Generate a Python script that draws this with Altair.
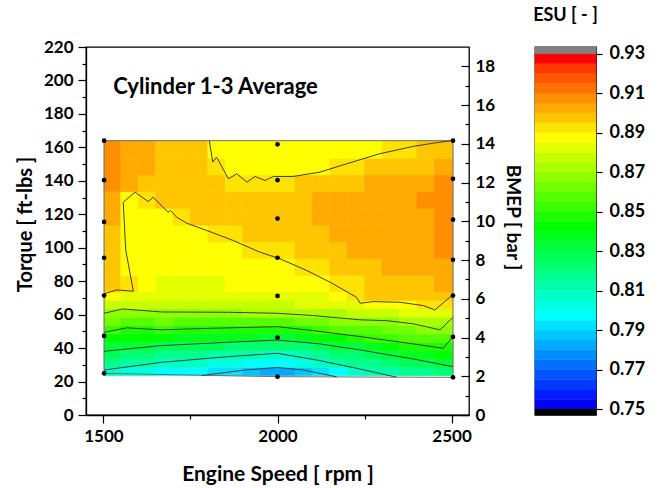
import altair as alt
import pandas as pd

# ---------------- data ----------------
SPEED_EDGES = [1502, 1550, 1600, 1650, 1700, 1750, 1800, 1850, 1900, 1950,
               2000, 2050, 2100, 2150, 2200, 2250, 2300, 2350, 2400, 2450, 2504]
TORQUE_EDGES = [23.5, 28.5, 33.5, 38.5, 43.5, 48.5, 53.5, 58.5, 63.5, 68.5,
                73.5, 83.5, 93.5, 103.5, 113.5, 123.5, 133.5, 143.5, 153.5, 164.0]

esu_t26 = [0.807, 0.804, 0.802, 0.799, 0.798, 0.795, 0.793, 0.790, 0.787, 0.783,
           0.783, 0.788, 0.792, 0.799, 0.806, 0.810, 0.814, 0.819, 0.819, 0.822]
esu_t31 = [0.816, 0.813, 0.812, 0.809, 0.807, 0.805, 0.803, 0.801, 0.799, 0.797,
           0.797, 0.800, 0.806, 0.812, 0.815, 0.819, 0.822, 0.826, 0.828, 0.831]
esu_t36 = [0.825, 0.823, 0.821, 0.819, 0.817, 0.816, 0.814, 0.812, 0.811, 0.809,
           0.808, 0.813, 0.817, 0.821, 0.824, 0.827, 0.831, 0.835, 0.838, 0.840]
esu_t41 = [0.834, 0.832, 0.831, 0.829, 0.828, 0.827, 0.825, 0.824, 0.823, 0.821,
           0.821, 0.824, 0.827, 0.830, 0.834, 0.838, 0.842, 0.846, 0.849, 0.849]
esu_t46 = [0.842, 0.840, 0.840, 0.840, 0.839, 0.838, 0.837, 0.836, 0.835, 0.834,
           0.834, 0.836, 0.840, 0.843, 0.847, 0.850, 0.853, 0.855, 0.857, 0.857]
esu_t51 = [0.851, 0.849, 0.849, 0.850, 0.849, 0.849, 0.848, 0.848, 0.847, 0.846,
           0.846, 0.849, 0.852, 0.855, 0.857, 0.859, 0.861, 0.864, 0.866, 0.866]
esu_t56 = [0.860, 0.857, 0.858, 0.860, 0.859, 0.859, 0.859, 0.859, 0.858, 0.858,
           0.859, 0.861, 0.863, 0.865, 0.867, 0.869, 0.869, 0.872, 0.874, 0.874]
esu_t61 = [0.869, 0.866, 0.867, 0.869, 0.869, 0.869, 0.869, 0.869, 0.870, 0.870,
           0.870, 0.871, 0.872, 0.873, 0.876, 0.878, 0.878, 0.880, 0.883, 0.882]
esu_t66 = [0.877, 0.875, 0.877, 0.877, 0.877, 0.877, 0.878, 0.878, 0.878, 0.879,
           0.879, 0.880, 0.880, 0.880, 0.883, 0.887, 0.887, 0.889, 0.890, 0.890]
esu_t71 = [0.886, 0.884, 0.882, 0.881, 0.881, 0.881, 0.882, 0.882, 0.882, 0.883,
           0.883, 0.884, 0.884, 0.885, 0.890, 0.895, 0.896, 0.897, 0.897, 0.895]
esu_t78 = [0.899, 0.893, 0.885, 0.883, 0.883, 0.884, 0.884, 0.885, 0.886, 0.886,
           0.887, 0.887, 0.888, 0.891, 0.894, 0.896, 0.898, 0.899, 0.899, 0.900]
esu_t88 = [0.898, 0.889, 0.886, 0.886, 0.887, 0.887, 0.888, 0.888, 0.889, 0.889,
           0.889, 0.891, 0.894, 0.896, 0.897, 0.899, 0.900, 0.901, 0.902, 0.903]
esu_t98 = [0.898, 0.887, 0.886, 0.887, 0.887, 0.888, 0.888, 0.889, 0.890, 0.892,
           0.894, 0.896, 0.897, 0.898, 0.900, 0.901, 0.902, 0.903, 0.903, 0.905]
esu_t108 = [0.899, 0.887, 0.887, 0.888, 0.888, 0.889, 0.890, 0.893, 0.895, 0.896,
            0.897, 0.898, 0.899, 0.900, 0.902, 0.903, 0.903, 0.904, 0.904, 0.906]
esu_t118 = [0.901, 0.887, 0.888, 0.889, 0.893, 0.896, 0.897, 0.897, 0.898, 0.899,
            0.899, 0.899, 0.900, 0.902, 0.903, 0.903, 0.904, 0.904, 0.904, 0.907]
esu_t128 = [0.904, 0.889, 0.891, 0.895, 0.897, 0.897, 0.897, 0.898, 0.898, 0.899,
            0.899, 0.899, 0.900, 0.901, 0.902, 0.902, 0.903, 0.904, 0.905, 0.907]
esu_t138 = [0.906, 0.902, 0.899, 0.898, 0.897, 0.897, 0.896, 0.894, 0.893, 0.893,
            0.894, 0.896, 0.897, 0.898, 0.899, 0.900, 0.901, 0.902, 0.903, 0.905]
esu_t148 = [0.907, 0.903, 0.900, 0.898, 0.897, 0.897, 0.891, 0.889, 0.888, 0.888,
            0.888, 0.888, 0.889, 0.890, 0.894, 0.896, 0.897, 0.898, 0.899, 0.901]
esu_t158 = [0.908, 0.903, 0.900, 0.898, 0.897, 0.896, 0.889, 0.888, 0.887, 0.886,
            0.886, 0.886, 0.887, 0.887, 0.888, 0.889, 0.891, 0.894, 0.896, 0.897]

ROWS = [esu_t26, esu_t31, esu_t36, esu_t41, esu_t46, esu_t51, esu_t56, esu_t61,
        esu_t66, esu_t71, esu_t78, esu_t88, esu_t98, esu_t108, esu_t118,
        esu_t128, esu_t138, esu_t148, esu_t158]

C89_TOP_RPM = [1804, 1814, 1825, 1859, 1883, 1912, 1935, 1964, 1988, 2045, 2122,
               2199, 2294, 2390, 2447, 2503]
C89_TOP_TQ = [164.1, 151.2, 154.2, 141.2, 144.2, 139.2, 142.6, 140.2, 142.6, 142.6,
              145.2, 150.2, 156.2, 160.6, 162.5, 164.1]
C89_LOW_RPM = [1502, 1538, 1586, 1564, 1557, 1591, 1629, 1643, 1686, 1693, 1710,
               1739, 1797, 1873, 1950, 2007, 2084, 2151, 2227, 2237, 2275, 2352,
               2419, 2452, 2504]
C89_LOW_TQ = [72.4, 74.8, 74.0, 98.8, 127.2, 133.2, 127.6, 130.2, 121.2, 122.3, 118.3,
              114.7, 110.3, 104.3, 97.3, 93.4, 86.4, 79.4, 70.4, 66.8, 67.8, 67.4,
              65.4, 62.8, 72.0]
C87_RPM = [1502, 1555, 1667, 1859, 2000, 2100, 2237, 2314, 2390, 2467, 2504]
C87_TQ = [60.8, 63.4, 61.6, 61.4, 60.8, 59.5, 56.9, 56.4, 54.5, 50.9, 58.4]
C85_RPM = [1502, 1567, 1667, 1800, 1900, 2000, 2100, 2237, 2390, 2476, 2504]
C85_TQ = [49.4, 52.1, 50.9, 51.8, 52.3, 52.8, 50.5, 46.9, 42.5, 39.9, 46.9]
C83_RPM = [1502, 1667, 1859, 2000, 2122, 2237, 2390, 2504]
C83_TQ = [38.1, 41.5, 43.5, 44.8, 42.5, 38.9, 33.5, 28.9]
C81_RPM = [1502, 1667, 1859, 2000, 2122, 2237, 2342]
C81_TQ = [26.9, 31.5, 34.9, 36.9, 32.5, 27.5, 22.6]
C79_RPM = [1782, 1907, 2000, 2074, 2170]
C79_TQ = [23.6, 26.9, 28.4, 26.9, 22.8]

EDGE_RPM = [1502, 2504, 2504, 2000, 1502, 1502]
EDGE_TQ = [164.0, 164.0, 22.5, 22.9, 24.9, 164.0]

DOT_RPM = [1502, 1502, 1502, 1502, 1502, 1502, 1502,
           2000, 2000, 2000, 2000, 2000, 2000, 2000,
           2504, 2504, 2504, 2504, 2504, 2504, 2504]
DOT_TQ = [164.0, 140.4, 115.4, 94.0, 71.4, 47.3, 24.9,
          161.8, 140.4, 117.4, 94.0, 71.2, 46.3, 22.9,
          164.0, 141.2, 116.8, 92.8, 71.4, 46.7, 22.5]

X_TICKS = [1500, 1750, 2000, 2250, 2500]
Y_TICKS = [0, 10, 20, 30, 40, 50, 60, 70, 80, 90, 100, 110, 120, 130, 140, 150,
           160, 170, 180, 190, 200, 210, 220]
BMEP_MAJOR = [0, 2, 4, 6, 8, 10, 12, 14, 16, 18]
BMEP_MINOR = [1, 3, 5, 7, 9, 11, 13, 15, 17]
CB_TICKS = [0.75, 0.77, 0.79, 0.81, 0.83, 0.85, 0.87, 0.89, 0.91, 0.93]

STOPS = [(0.75, (0, 0, 255)), (0.795, (0, 255, 255)), (0.84, (0, 255, 0)),
         (0.885, (255, 255, 0)), (0.93, (255, 0, 0))]


def rainbow(v):
    for (a, ca), (b, cb) in zip(STOPS, STOPS[1:]):
        if v <= b:
            f = (v - a) / (b - a)
            return "#%02x%02x%02x" % tuple(int(round(ca[i] + (cb[i] - ca[i]) * f)) for i in range(3))
    return "#ff0000"


THRESH = [round(0.75 + 0.005 * k, 3) for k in range(37)]
BAND_COLORS = [rainbow(THRESH[k]) for k in range(35)] + ["#ff0000"]
RANGE = ["#000000"] + BAND_COLORS + ["#808080"]
color_scale = alt.Scale(type="threshold", domain=THRESH, range=RANGE)

cells = []
for r, row in enumerate(ROWS):
    for c, v in enumerate(row):
        cells.append({"x0": SPEED_EDGES[c], "x1": SPEED_EDGES[c + 1],
                      "y0": TORQUE_EDGES[r], "y1": TORQUE_EDGES[r + 1], "esu": v})
cells = pd.DataFrame(cells)

line_rows = []
for name, xs, ys in [("89a", C89_TOP_RPM, C89_TOP_TQ), ("89b", C89_LOW_RPM, C89_LOW_TQ),
                     ("87", C87_RPM, C87_TQ), ("85", C85_RPM, C85_TQ),
                     ("83", C83_RPM, C83_TQ), ("81", C81_RPM, C81_TQ),
                     ("79", C79_RPM, C79_TQ)]:
    for i, (x, y) in enumerate(zip(xs, ys)):
        line_rows.append({"line": name, "idx": i, "rpm": x, "tq": y})
lines_df = pd.DataFrame(line_rows)
edge_df = pd.DataFrame({"rpm": EDGE_RPM, "tq": EDGE_TQ, "idx": list(range(len(EDGE_RPM)))})
dots_df = pd.DataFrame({"rpm": DOT_RPM, "tq": DOT_TQ})
label_df = pd.DataFrame({"rpm": [1528], "tq": [196], "text": ["Cylinder 1-3 Average"]})

cb_rows = [{"lo": THRESH[k], "hi": THRESH[k + 1], "mid": (THRESH[k] + THRESH[k + 1]) / 2,
            "c0": 0, "c1": 1} for k in range(36)]
cb_rows.append({"lo": 0.747, "hi": 0.75, "mid": 0.7485, "c0": 0, "c1": 1})
cb_rows.append({"lo": 0.93, "hi": 0.9333, "mid": 0.9315, "c0": 0, "c1": 1})
cb_df = pd.DataFrame(cb_rows)

bm_df = pd.DataFrame({"b": [0], "rpm": [2000]})

FONT = "Lato"
x_scale = alt.Scale(domain=[1450, 2550], nice=False, zero=False)
y_scale = alt.Scale(domain=[0, 220], nice=False)

x_axis = alt.Axis(values=X_TICKS, format="d", title="Engine Speed [ rpm ]",
                  labelExpr="datum.value % 500 === 0 ? datum.label : ''",
                  tickSize={"condition": {"test": "datum.value % 500 === 0", "value": 8}, "value": 4},
                  labelPadding=5, titlePadding=19, titleFontSize=21, labelFlush=False)
y_axis = alt.Axis(values=Y_TICKS, format="d", title="Torque [ ft-lbs ]",
                  labelExpr="datum.value % 20 === 0 ? datum.label : ''",
                  tickSize={"condition": {"test": "datum.value % 20 === 0", "value": 8}, "value": 4},
                  labelPadding=5, titlePadding=8, titleY=177, titleFontSize=20,
                  labelFlush=False)

X = alt.X("rpm:Q", scale=x_scale, axis=x_axis)
Y = alt.Y("tq:Q", scale=y_scale, axis=y_axis)

heat = alt.Chart(cells).mark_rect(strokeWidth=0.6).encode(
    x=alt.X("x0:Q", scale=x_scale, axis=x_axis),
    x2="x1:Q",
    y=alt.Y("y0:Q", scale=y_scale, axis=y_axis),
    y2="y1:Q",
    color=alt.Color("esu:Q", scale=color_scale, legend=None),
    stroke=alt.Stroke("esu:Q", scale=color_scale, legend=None),
)

edge = alt.Chart(edge_df).mark_line(color="#707070", strokeWidth=1).encode(
    x=X, y=Y, order="idx:Q")

lines = alt.Chart(lines_df).mark_line(color="#404040", strokeWidth=1).encode(
    x=X, y=Y, detail="line:N", order="idx:Q")

dots = alt.Chart(dots_df).mark_circle(size=22, color="black", opacity=1).encode(x=X, y=Y)

label = alt.Chart(label_df).mark_text(align="left", baseline="middle", font=FONT,
                                      fontSize=22, fontWeight="bold", color="black").encode(
    x=X, y=Y, text="text:N")

inner = alt.layer(heat, edge, lines, dots, label)

bmep_major = alt.Chart(bm_df).mark_point(opacity=0).encode(
    x=X,
    y=alt.Y("b:Q", scale=alt.Scale(domain=[0, 19], nice=False),
            axis=alt.Axis(orient="right", values=BMEP_MAJOR, format="d", tickSize=8,
                          offset=-8, domain=False, labelPadding=6, title="BMEP [ bar ]",
                          titleY=170, titlePadding=8, titleFontSize=19, labelFlush=False)))
bmep_minor = alt.Chart(bm_df).mark_point(opacity=0).encode(
    x=X,
    y=alt.Y("b:Q", scale=alt.Scale(domain=[0, 19], nice=False),
            axis=alt.Axis(orient="right", values=BMEP_MINOR, tickSize=4, offset=-4,
                          domain=False, labels=False, title=None)))

main = alt.layer(inner, bmep_major, bmep_minor).resolve_scale(y="independent").properties(
    width=383, height=368)

cbar = alt.Chart(cb_df).mark_rect(strokeWidth=0.5).encode(
    x=alt.X("c0:Q", scale=alt.Scale(domain=[0, 1], nice=False), axis=None),
    x2="c1:Q",
    y=alt.Y("lo:Q", scale=alt.Scale(domain=[0.747, 0.9333], nice=False, zero=False),
            axis=alt.Axis(orient="right", values=CB_TICKS, format=".2f", tickSize=6,
                          labelPadding=7, labelFontSize=18, domain=False, title=None,
                          labelFlush=False)),
    y2="hi:Q",
    color=alt.Color("mid:Q", scale=color_scale, legend=None),
    stroke=alt.Stroke("mid:Q", scale=color_scale, legend=None),
).properties(width=61, height=368,
             title=alt.TitleParams("ESU [ - ]", offset=20, anchor="middle", fontSize=18))

chart = alt.hconcat(main, cbar, spacing=66, bounds="flush").properties(
    padding={"left": 14, "top": 5, "right": 5, "bottom": 5}
).configure_view(
    stroke="black", strokeWidth=1.3
).configure_axis(
    labelFont=FONT, labelFontWeight="bold", labelFontSize=17, labelColor="black",
    titleFont=FONT, titleFontWeight="bold", titleFontSize=18, titleColor="black",
    tickColor="black", domainColor="black", tickWidth=1.2, domainWidth=1.3, grid=False
).configure_title(
    font=FONT, fontWeight="bold", fontSize=18, color="black"
)

chart.save("out.html", embed_options={"renderer": "svg", "actions": False})
